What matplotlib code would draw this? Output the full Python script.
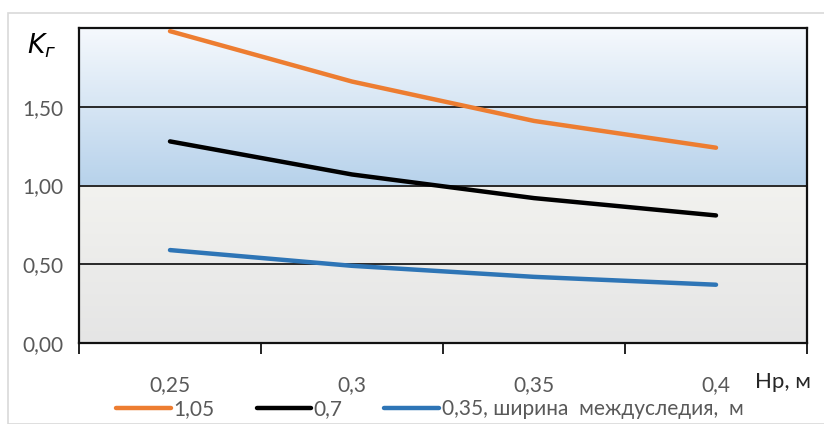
import matplotlib.pyplot as plt
import numpy as np
from matplotlib.colors import LinearSegmentedColormap
from matplotlib.patches import Rectangle

plt.rcParams['font.family'] = ['Lato', 'DejaVu Sans']

# Hр, м (category axis)
h_labels = ["0,25", "0,3", "0,35", "0,4"]
# K_г for each width between tracks
k_105 = [1.98, 1.66, 1.41, 1.24]
k_07 = [1.28, 1.07, 0.92, 0.81]
k_035 = [0.59, 0.49, 0.42, 0.37]
series_names = ["1,05", "0,7", "0,35, ширина  междуследия,  м"]
y_ticks = [0.0, 0.5, 1.0, 1.5]
y_tick_labels = ["0,00", "0,50", "1,00", "1,50"]

GRAY_TXT = "#595959"
FS = 15

fig = plt.figure(figsize=(8.24, 4.24), dpi=100)
fig.patches.append(Rectangle((8 / 824, 0), 1, 1 - 13 / 424, transform=fig.transFigure,
                             fill=False, edgecolor="#d9d9d9", linewidth=1.2))
ax = fig.add_axes([79 / 824, 1 - 343 / 424, 728 / 824, 315 / 424])

x = np.arange(len(h_labels))
ax.set_xlim(-0.5, len(h_labels) - 0.5)
ax.set_ylim(0, 2.0)

# gradient background: blue band above 1, gray band below
blue = LinearSegmentedColormap.from_list("b", ["#b7d2eb", "#f6f9fd"])
gray = LinearSegmentedColormap.from_list("g", ["#e5e5e5", "#f2f2ef"])
grad = np.linspace(0, 1, 256).reshape(-1, 1)
ax.imshow(grad, cmap=blue, origin="lower", aspect="auto",
          extent=(-0.5, 3.5, 1.0, 2.0), zorder=0)
ax.imshow(grad, cmap=gray, origin="lower", aspect="auto",
          extent=(-0.5, 3.5, 0.0, 1.0), zorder=0)

for yv in [0.5, 1.0, 1.5]:
    ax.axhline(yv, color="#1a1a1a", linewidth=1.3, zorder=1)

lw = 3.2
l1, = ax.plot(x, k_105, color="#ed7d31", linewidth=lw, solid_capstyle="round", zorder=3)
l2, = ax.plot(x, k_07, color="#000000", linewidth=lw, solid_capstyle="round", zorder=3)
l3, = ax.plot(x, k_035, color="#2e75b6", linewidth=lw, solid_capstyle="round", zorder=3)

for s in ax.spines.values():
    s.set_linewidth(1.6)
    s.set_color("#111111")

ax.set_yticks(y_ticks)
ax.set_yticklabels(y_tick_labels, color=GRAY_TXT, fontsize=FS)
ax.tick_params(axis="y", length=0, pad=11)

ax.set_xticks(np.arange(-0.5, len(h_labels)), labels=[""] * (len(h_labels) + 1))
ax.tick_params(axis="x", which="major", direction="out", length=8, width=1.3, color="#111111")
ax.set_xticks(x, labels=h_labels, minor=True)
ax.tick_params(axis="x", which="minor", length=0, pad=23, labelsize=FS, labelcolor=GRAY_TXT)

fig.text(42 / 824, 1 - 46 / 424, "$K_г$", fontsize=19, ha="center", va="center",
         fontstyle="italic")
fig.text(783 / 824, 1 - 382 / 424, "Нр, м", fontsize=16, ha="center", va="center",
         color="#262626")

leg = fig.legend([l1, l2, l3], series_names, loc="center", ncol=3,
                 bbox_to_anchor=(430 / 824, 1 - 409 / 424), frameon=False,
                 fontsize=FS, handlelength=2.6, handletextpad=0.15, columnspacing=2.0)
for t in leg.get_texts():
    t.set_color(GRAY_TXT)

fig.savefig("out.png", dpi=100)
